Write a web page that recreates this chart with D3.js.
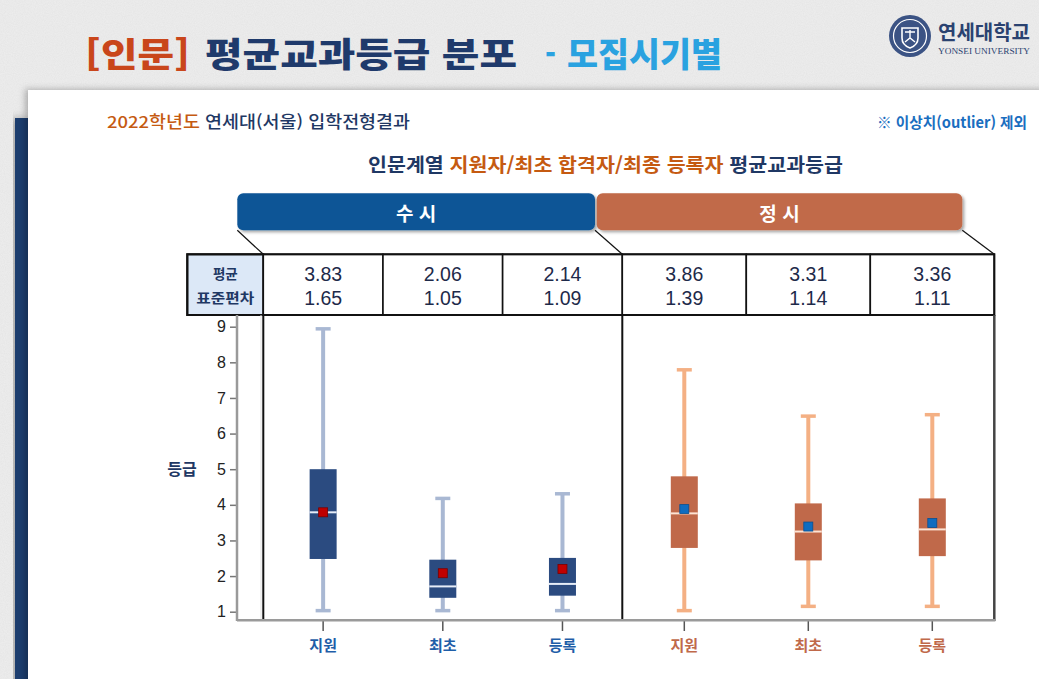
<!DOCTYPE html>
<html lang="ko">
<head>
<meta charset="utf-8">
<script src="https://cdn.jsdelivr.net/npm/d3@7"></script>
<style>
  html, body { margin: 0; padding: 0; background: #e9e9e9; overflow: hidden; }
  svg { display: block; font-family: 'Noto Sans CJK KR', 'Noto Sans', sans-serif; }
  .num { font-family: 'Liberation Sans', Arial, sans-serif; }
</style>
</head>
<body>
<div id="chart"></div>
<script>
// chart values
const groups = ['수시', '정시'];
const categories = ['지원', '최초', '등록'];
const meanValues = [3.83, 2.06, 2.14, 3.86, 3.31, 3.36];
const sdValues = [1.65, 1.05, 1.09, 1.39, 1.14, 1.11];
const whiskerLow = [1.03, 1.03, 1.03, 1.03, 1.15, 1.15];
const q1Values = [2.48, 1.39, 1.45, 2.79, 2.44, 2.56];
const medianValues = [3.79, 1.71, 1.78, 3.76, 3.25, 3.31];
const q3Values = [5.0, 2.46, 2.51, 4.8, 4.04, 4.18];
const whiskerHigh = [8.94, 4.18, 4.31, 7.79, 6.49, 6.53];
// plotted mean markers
const meanMarks = [3.79, 2.08, 2.2, 3.88, 3.39, 3.49];
const yTicks = [1, 2, 3, 4, 5, 6, 7, 8, 9];

// group styles
const style = {
  수시: { bar: '#0b5496', box: '#2b4b80', whisker: '#a9b8d3', median: '#e6edf8', mark: '#c00000', markStroke: '#7a0000', label: '#1f5ea8' },
  정시: { bar: '#c16a48', box: '#c0694a', whisker: '#f4b084', median: '#fde3d3', mark: '#0f6cc0', markStroke: '#0a4f90', label: '#c0694a' },
};

const W = 1039;
const H = 679;

const svg = d3.select('#chart').append('svg').attr('width', W).attr('height', H);
const defs = svg.append('defs');

// paper texture + shadows
const paper = defs.append('filter').attr('id', 'paper').attr('x', 0).attr('y', 0).attr('width', 1).attr('height', 1);
paper.append('feTurbulence').attr('type', 'fractalNoise').attr('baseFrequency', 0.9).attr('numOctaves', 2).attr('seed', 3);
paper.append('feColorMatrix').attr('values', '0 0 0 0 0.55  0 0 0 0 0.55  0 0 0 0 0.55  0 0 0 0.2 0');
paper.append('feComposite').attr('in2', 'SourceGraphic').attr('operator', 'in');
paper.append('feBlend').attr('in', 'SourceGraphic').attr('mode', 'multiply');

const shadow = (id, dx, dy, sd, op) =>
  defs.append('filter').attr('id', id).attr('x', '-10%').attr('y', '-10%').attr('width', '130%').attr('height', '140%')
    .append('feDropShadow').attr('dx', dx).attr('dy', dy).attr('stdDeviation', sd)
    .attr('flood-color', '#000').attr('flood-opacity', op);
shadow('cardShadow', -3, -1, 3, 0.25);
shadow('stripShadow', -4, 0, 4, 0.3);
shadow('barShadow', 2, 2, 1.5, 0.35);

svg.append('rect').attr('width', W).attr('height', H).attr('fill', '#eeeeee').attr('filter', 'url(#paper)');

// navy strip behind the card
svg.append('rect').attr('x', 15).attr('y', 118).attr('width', 16).attr('height', H)
  .attr('fill', '#1f3e6e').attr('filter', 'url(#stripShadow)');
// white card
svg.append('rect').attr('x', 28).attr('y', 90).attr('width', W).attr('height', H)
  .attr('fill', '#ffffff').attr('filter', 'url(#cardShadow)');

// page title
const title = svg.append('g').attr('font-weight', 900).attr('font-size', 34);
[
  { t: '[인문]', x: 85, len: 105, c: '#c9461b' },
  { t: '평균교과등급 분포', x: 205, len: 312, c: '#1f3a6b' },
  { t: '-', x: 545, len: 11, c: '#2aa2e0' },
  { t: '모집시기별', x: 567, len: 155, c: '#2aa2e0' },
].forEach((d) => {
  title.append('text').attr('x', d.x).attr('y', 52).attr('dominant-baseline', 'central')
    .attr('textLength', d.len).attr('lengthAdjust', 'spacingAndGlyphs')
    .attr('fill', d.c).text(d.t);
});

// university logo
const logo = svg.append('g').attr('transform', 'translate(910,36)');
logo.append('circle').attr('r', 21).attr('fill', '#3b5384');
logo.append('circle').attr('r', 16.5).attr('fill', 'none').attr('stroke', '#fff').attr('stroke-width', 1.2);
logo.append('circle').attr('r', 13).attr('fill', '#3b5384');
logo.append('path').attr('d', 'M-8,-8 H8 V2 Q8,9 0,12 Q-8,9 -8,2 Z')
  .attr('fill', 'none').attr('stroke', '#fff').attr('stroke-width', 1.6);
logo.append('path').attr('d', 'M-5,-4 H5 M0,-6 V3 M-5,6 L0,2 L5,6')
  .attr('fill', 'none').attr('stroke', '#fff').attr('stroke-width', 1.4);
svg.append('text').attr('x', 938).attr('y', 31).attr('dominant-baseline', 'central')
  .attr('font-size', 20).attr('font-weight', 700).attr('fill', '#2a4270')
  .attr('textLength', 92).attr('lengthAdjust', 'spacingAndGlyphs').text('연세대학교');
svg.append('text').attr('x', 938).attr('y', 51).attr('dominant-baseline', 'central')
  .attr('font-family', "'Liberation Serif', 'DejaVu Serif', serif").attr('font-size', 8).attr('fill', '#2a4270')
  .attr('textLength', 92).attr('lengthAdjust', 'spacingAndGlyphs').text('YONSEI UNIVERSITY');

// card header line
const sub = svg.append('text').attr('x', 107).attr('y', 121).attr('dominant-baseline', 'central')
  .attr('font-size', 16.5).attr('font-weight', 500).attr('textLength', 303).attr('lengthAdjust', 'spacingAndGlyphs');
sub.append('tspan').attr('fill', '#c55a11').text('2022학년도');
sub.append('tspan').attr('fill', '#1f3864').text(' 연세대(서울) 입학전형결과');

svg.append('text').attr('x', 1027).attr('y', 121).attr('dominant-baseline', 'central').attr('text-anchor', 'end')
  .attr('font-size', 15).attr('font-weight', 700).attr('fill', '#1a6ec0')
  .attr('textLength', 150).attr('lengthAdjust', 'spacingAndGlyphs').text('※ 이상치(outlier) 제외');

// chart title
const ct = svg.append('text').attr('x', 368).attr('y', 163).attr('dominant-baseline', 'central')
  .attr('font-size', 19).attr('font-weight', 700).attr('textLength', 475).attr('lengthAdjust', 'spacingAndGlyphs');
ct.append('tspan').attr('fill', '#1f3864').text('인문계열 ');
ct.append('tspan').attr('fill', '#c55a11').text('지원자/최초 합격자/최종 등록자');
ct.append('tspan').attr('fill', '#1f3864').text(' 평균교과등급');

// scales
const y = d3.scaleLinear().domain([1, 9]).range([611.7, 326.7]);
const x = {
  수시: d3.scaleBand().domain(categories).range([263.3, 622.3]),
  정시: d3.scaleBand().domain(categories).range([622.3, 994.3]),
};
const cx = (d) => x[d.group](d.cat) + x[d.group].bandwidth() / 2;

// one row per box
const boxes = groups.flatMap((g, gi) =>
  categories.map((c, ci) => {
    const i = gi * categories.length + ci;
    return {
      group: g, cat: c,
      mean: meanValues[i], sd: sdValues[i],
      lo: whiskerLow[i], q1: q1Values[i], med: medianValues[i], q3: q3Values[i], hi: whiskerHigh[i],
      mark: meanMarks[i],
    };
  })
);

// group header bars
const header = [
  { g: '수시', x0: 237.3, x1: 595 },
  { g: '정시', x0: 596.7, x1: 962.3 },
];
const headG = svg.append('g').selectAll('g').data(header).enter().append('g');
headG.append('rect').attr('x', (d) => d.x0).attr('y', 193.3).attr('width', (d) => d.x1 - d.x0).attr('height', 37)
  .attr('rx', 6).attr('fill', (d) => style[d.g].bar).attr('filter', 'url(#barShadow)');
headG.append('text').attr('x', (d) => (d.x0 + d.x1) / 2).attr('y', 212).attr('dominant-baseline', 'central')
  .attr('text-anchor', 'middle').attr('font-size', 19).attr('font-weight', 700).attr('fill', '#fff')
  .text((d) => d.g.split('').join('  '));

// connectors from header bars to the table
const tableTop = 254.3;
const tableBot = 315;
svg.append('g').selectAll('line')
  .data([[237.3, x.수시.range()[0]], [595, x.정시.range()[0]], [962.3, x.정시.range()[1]]])
  .enter().append('line')
  .attr('x1', (d) => d[0]).attr('y1', 230.3).attr('x2', (d) => d[1]).attr('y2', tableTop)
  .attr('stroke', '#111').attr('stroke-width', 1.2);

// stats table
const table = svg.append('g');
table.append('rect').attr('x', 187.3).attr('y', tableTop).attr('width', 263.3 - 187.3).attr('height', tableBot - tableTop)
  .attr('fill', '#dce8f7').attr('stroke', '#111').attr('stroke-width', 2);
table.append('text').attr('x', 225.3).attr('y', 273).attr('dominant-baseline', 'central').attr('text-anchor', 'middle')
  .attr('font-size', 13.5).attr('font-weight', 700).attr('fill', '#1f3864').text('평균');
table.append('text').attr('x', 225.3).attr('y', 296.5).attr('dominant-baseline', 'central').attr('text-anchor', 'middle')
  .attr('font-size', 13.5).attr('font-weight', 700).attr('fill', '#1f3864')
  .attr('textLength', 58).attr('lengthAdjust', 'spacingAndGlyphs').text('표준편차');

const cells = table.selectAll('.cell').data(boxes).enter().append('g').attr('class', 'cell');
cells.append('rect').attr('x', (d) => x[d.group](d.cat)).attr('y', tableTop)
  .attr('width', (d) => x[d.group].bandwidth()).attr('height', tableBot - tableTop)
  .attr('fill', '#fff').attr('stroke', '#111').attr('stroke-width', 1.6);
cells.append('text').attr('class', 'num').attr('x', cx).attr('y', 274.3).attr('dominant-baseline', 'central')
  .attr('text-anchor', 'middle').attr('font-size', 19.5).attr('fill', '#1e2a4a').text((d) => d3.format('.2f')(d.mean));
cells.append('text').attr('class', 'num').attr('x', cx).attr('y', 297.7).attr('dominant-baseline', 'central')
  .attr('text-anchor', 'middle').attr('font-size', 19.5).attr('fill', '#1e2a4a').text((d) => d3.format('.2f')(d.sd));
table.append('rect').attr('x', 187.3).attr('y', tableTop).attr('width', x.정시.range()[1] - 187.3)
  .attr('height', tableBot - tableTop).attr('fill', 'none').attr('stroke', '#111').attr('stroke-width', 2);

// plot frame
const plotTop = tableBot;
const plotBot = 621;
const frame = svg.append('g');
frame.append('line').attr('x1', 261).attr('x2', 261).attr('y1', plotTop).attr('y2', plotBot)
  .attr('stroke', '#e2e2e2').attr('stroke-width', 1);
frame.selectAll('.sep').data([x.수시.range()[0], x.정시.range()[0]]).enter().append('line')
  .attr('x1', (d) => d).attr('x2', (d) => d).attr('y1', plotTop).attr('y2', plotBot)
  .attr('stroke', '#111').attr('stroke-width', 2);
frame.append('line').attr('x1', x.정시.range()[1]).attr('x2', x.정시.range()[1]).attr('y1', plotTop).attr('y2', plotBot)
  .attr('stroke', '#444').attr('stroke-width', 2.5);

// y axis
const yAxis = svg.append('g').attr('transform', 'translate(237,0)')
  .call(d3.axisLeft(y).tickValues(yTicks).tickSize(7).tickSizeOuter(0).tickPadding(4));
yAxis.select('.domain').remove();
yAxis.selectAll('.tick line').attr('stroke', '#777').attr('stroke-width', 1.5);
yAxis.selectAll('.tick text').attr('class', 'num').attr('font-size', 16).attr('fill', '#222');
svg.append('line').attr('x1', 237).attr('x2', 237).attr('y1', plotTop).attr('y2', plotBot)
  .attr('stroke', '#9a9a9a').attr('stroke-width', 2.5);
svg.append('text').attr('x', 182).attr('y', 468).attr('dominant-baseline', 'central').attr('text-anchor', 'middle')
  .attr('font-size', 16).attr('font-weight', 700).attr('fill', '#1f3864').text('등급');

// x axes, one per group
groups.forEach((g) => {
  const ax = svg.append('g').attr('transform', `translate(0,${plotBot})`)
    .call(d3.axisBottom(x[g]).tickSize(10).tickSizeOuter(0).tickPadding(9));
  ax.select('.domain').remove();
  ax.selectAll('.tick line').attr('stroke', '#555').attr('stroke-width', 1.5);
  ax.selectAll('.tick text').attr('font-size', 15).attr('font-weight', 700).attr('fill', style[g].label)
    .attr('font-family', "'Noto Sans CJK KR', sans-serif");
});
svg.append('line').attr('x1', 237).attr('x2', x.정시.range()[1] + 1).attr('y1', 620.3).attr('y2', 620.3)
  .attr('stroke', '#9a9a9a').attr('stroke-width', 2.5);

// boxplots
const boxW = 27;
const capW = 15;
const bx = svg.append('g').selectAll('.box').data(boxes).enter().append('g').attr('class', 'box');
bx.append('line').attr('x1', cx).attr('x2', cx).attr('y1', (d) => y(d.hi)).attr('y2', (d) => y(d.lo))
  .attr('stroke', (d) => style[d.group].whisker).attr('stroke-width', 4);
bx.selectAll('.cap').data((d) => [d.lo, d.hi].map((v) => ({ ...d, v }))).enter().append('line')
  .attr('class', 'cap').attr('x1', (d) => cx(d) - capW / 2).attr('x2', (d) => cx(d) + capW / 2)
  .attr('y1', (d) => y(d.v)).attr('y2', (d) => y(d.v))
  .attr('stroke', (d) => style[d.group].whisker).attr('stroke-width', 3.5);
bx.append('rect').attr('x', (d) => cx(d) - boxW / 2).attr('width', boxW)
  .attr('y', (d) => y(d.q3)).attr('height', (d) => y(d.q1) - y(d.q3))
  .attr('fill', (d) => style[d.group].box);
bx.append('line').attr('x1', (d) => cx(d) - boxW / 2).attr('x2', (d) => cx(d) + boxW / 2)
  .attr('y1', (d) => y(d.med)).attr('y2', (d) => y(d.med))
  .attr('stroke', (d) => style[d.group].median).attr('stroke-width', 2);
bx.append('rect').attr('x', (d) => cx(d) - 4.5).attr('y', (d) => y(d.mark) - 4.5).attr('width', 9).attr('height', 9)
  .attr('fill', (d) => style[d.group].mark).attr('stroke', (d) => style[d.group].markStroke).attr('stroke-width', 0.8);
</script>
</body>
</html>
